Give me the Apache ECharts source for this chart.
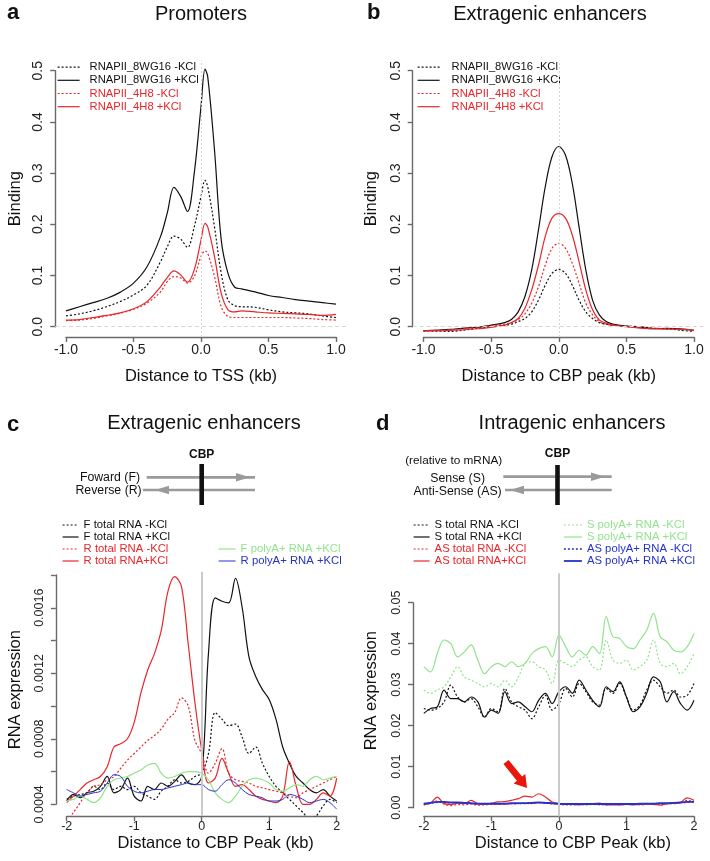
<!DOCTYPE html>
<html>
<head>
<meta charset="utf-8">
<script src="https://cdn.jsdelivr.net/npm/echarts@6/dist/echarts.min.js"></script>
<style>
html, body { margin: 0; padding: 0; background: #fff; }
#chart { width: 710px; height: 861px; }
</style>
</head>
<body>
<div id="chart"></div>
<script>
// ---------- data ----------
// a: promoters, distance to TSS (kb)
var tssX = [-1.0, -0.9, -0.8, -0.7, -0.6, -0.5, -0.4, -0.3, -0.25, -0.2, -0.15, -0.1, -0.05, 0, 0.03, 0.05, 0.1, 0.15, 0.2, 0.25, 0.3, 0.4, 0.5, 0.6, 0.7, 0.8, 0.9, 1.0]
var prom8wgMinus = [0.021, 0.025, 0.031, 0.039, 0.049, 0.062, 0.081, 0.127, 0.156, 0.177, 0.171, 0.155, 0.195, 0.254, 0.286, 0.273, 0.195, 0.104, 0.052, 0.041, 0.039, 0.038, 0.033, 0.029, 0.027, 0.025, 0.021, 0.018]
var prom8wgPlus = [0.031, 0.039, 0.047, 0.055, 0.067, 0.085, 0.117, 0.176, 0.222, 0.272, 0.254, 0.225, 0.300, 0.430, 0.503, 0.488, 0.345, 0.169, 0.104, 0.077, 0.074, 0.068, 0.061, 0.057, 0.053, 0.050, 0.047, 0.044]
var prom4h8Minus = [0.012, 0.013, 0.016, 0.021, 0.026, 0.034, 0.046, 0.068, 0.088, 0.098, 0.095, 0.085, 0.098, 0.137, 0.148, 0.143, 0.098, 0.039, 0.020, 0.018, 0.018, 0.018, 0.018, 0.018, 0.017, 0.016, 0.014, 0.013]
var prom4h8Plus = [0.013, 0.014, 0.018, 0.022, 0.027, 0.035, 0.049, 0.078, 0.096, 0.109, 0.101, 0.087, 0.111, 0.169, 0.202, 0.195, 0.137, 0.065, 0.033, 0.029, 0.031, 0.029, 0.027, 0.026, 0.025, 0.024, 0.022, 0.024]

// b: extragenic enhancers, distance to CBP peak (kb)
var cbpX = [-1.0, -0.8, -0.6, -0.5, -0.4, -0.35, -0.3, -0.25, -0.2, -0.15, -0.1, -0.05, 0, 0.05, 0.1, 0.15, 0.2, 0.25, 0.3, 0.35, 0.4, 0.5, 0.6, 0.7, 0.8, 0.9, 1.0]
var enh8wgMinus = [-0.008, -0.009, -0.003, 0.000, 0.003, 0.005, 0.010, 0.016, 0.029, 0.052, 0.081, 0.104, 0.112, 0.104, 0.081, 0.052, 0.029, 0.016, 0.008, 0.005, 0.003, 0.001, 0.000, -0.003, -0.004, -0.007, -0.009]
var enh8wgPlus = [-0.008, -0.005, -0.001, 0.003, 0.008, 0.014, 0.029, 0.059, 0.111, 0.189, 0.273, 0.332, 0.352, 0.335, 0.280, 0.195, 0.111, 0.052, 0.023, 0.010, 0.005, 0.001, -0.001, -0.004, -0.003, -0.004, -0.007]
var enh4h8Minus = [-0.008, -0.006, -0.001, 0.002, 0.005, 0.008, 0.014, 0.025, 0.046, 0.078, 0.120, 0.153, 0.163, 0.153, 0.124, 0.085, 0.046, 0.023, 0.010, 0.005, 0.003, 0.000, -0.001, -0.003, -0.004, -0.005, -0.008]
var enh4h8Plus = [-0.008, -0.007, -0.004, -0.001, 0.003, 0.008, 0.016, 0.036, 0.072, 0.120, 0.176, 0.212, 0.221, 0.212, 0.179, 0.127, 0.072, 0.033, 0.013, 0.007, 0.003, 0.000, -0.003, -0.004, -0.005, -0.005, -0.007]

// c, d: distance to CBP peak (kb)
var kbX = [-2.0, -1.9, -1.8, -1.7, -1.6, -1.5, -1.4, -1.3, -1.2, -1.1, -1.0, -0.9, -0.8, -0.7, -0.6, -0.5, -0.4, -0.3, -0.2, -0.1, 0, 0.1, 0.2, 0.3, 0.4, 0.5, 0.6, 0.7, 0.8, 0.9, 1.0, 1.1, 1.2, 1.3, 1.4, 1.5, 1.6, 1.7, 1.8, 1.9, 2.0]

// c: extragenic enhancers RNA
var extFMinus = [0.00043, 0.00045, 0.00046, 0.00047, 0.00051, 0.00049, 0.00053, 0.00049, 0.00051, 0.00049, 0.00051, 0.00047, 0.00045, 0.00043, 0.00048, 0.00051, 0.00055, 0.00053, 0.00054, 0.00057, 0.00059, 0.00071, 0.00096, 0.00092, 0.00088, 0.00089, 0.00081, 0.00071, 0.00075, 0.00065, 0.00057, 0.00051, 0.00047, 0.00043, 0.00039, 0.00035, 0.00031, 0.00033, 0.00039, 0.00043, 0.00041]
var extFPlus = [0.00042, 0.00046, 0.00044, 0.00047, 0.00048, 0.00051, 0.00057, 0.00047, 0.00049, 0.00056, 0.00045, 0.00042, 0.00051, 0.00049, 0.00053, 0.00051, 0.00054, 0.00058, 0.00053, 0.00052, 0.00057, 0.00132, 0.00166, 0.00164, 0.00163, 0.00178, 0.0016, 0.0013, 0.00118, 0.0011, 0.00104, 0.00092, 0.00075, 0.00065, 0.00057, 0.00053, 0.00049, 0.00047, 0.00049, 0.00045, 0.00042]
var extRMinus = [0.0003, 0.00035, 0.00041, 0.00047, 0.00051, 0.00052, 0.00055, 0.00057, 0.00062, 0.00067, 0.00071, 0.00075, 0.00079, 0.00082, 0.00086, 0.00092, 0.00096, 0.00105, 0.001, 0.00079, 0.00071, 0.00059, 0.00065, 0.00074, 0.00059, 0.00055, 0.00054, 0.00053, 0.00051, 0.0005, 0.00049, 0.00048, 0.00047, 0.00045, 0.00044, 0.00047, 0.00049, 0.00051, 0.00053, 0.00055, 0.00057]
var extRPlus = [0.00041, 0.00045, 0.00049, 0.00053, 0.00055, 0.00057, 0.00063, 0.00075, 0.00077, 0.0008, 0.0009, 0.00108, 0.00122, 0.00132, 0.00146, 0.0017, 0.00179, 0.00173, 0.00138, 0.00102, 0.00073, 0.00053, 0.00056, 0.00068, 0.00059, 0.00051, 0.00052, 0.00049, 0.00045, 0.00043, 0.00042, 0.00041, 0.00045, 0.00066, 0.00051, 0.0004, 0.0004, 0.00043, 0.00047, 0.00045, 0.00056]
var extFPolyAPlus = [0.00042, 0.00043, 0.00045, 0.00043, 0.00041, 0.00044, 0.00051, 0.00055, 0.00056, 0.00057, 0.00059, 0.00061, 0.00064, 0.00065, 0.00059, 0.00056, 0.00057, 0.00059, 0.0006, 0.0006, 0.00059, 0.00055, 0.00047, 0.00043, 0.00041, 0.00045, 0.00051, 0.00055, 0.00056, 0.00055, 0.00053, 0.00049, 0.00048, 0.0005, 0.00052, 0.00051, 0.00055, 0.00057, 0.00055, 0.00056, 0.00057]
var extRPolyAPlus = [0.00049, 0.00047, 0.00045, 0.00046, 0.00047, 0.00048, 0.00053, 0.00058, 0.00057, 0.00051, 0.00048, 0.00047, 0.00048, 0.00049, 0.00049, 0.0005, 0.00051, 0.00052, 0.00053, 0.00052, 0.00052, 0.00049, 0.00048, 0.00052, 0.00055, 0.00053, 0.00049, 0.00046, 0.00045, 0.00044, 0.00042, 0.00042, 0.00043, 0.00046, 0.00045, 0.00043, 0.00041, 0.00042, 0.00043, 0.00041, 0.00037]

// d: intragenic enhancers RNA
var intSMinus = [0.0242, 0.0238, 0.0242, 0.0258, 0.0299, 0.027, 0.0258, 0.0266, 0.0246, 0.0221, 0.0242, 0.0234, 0.0291, 0.0258, 0.0246, 0.0238, 0.0217, 0.0246, 0.0274, 0.0238, 0.0254, 0.0291, 0.027, 0.0303, 0.0283, 0.0258, 0.025, 0.0291, 0.0279, 0.0303, 0.027, 0.0238, 0.025, 0.0287, 0.0311, 0.0295, 0.0279, 0.0287, 0.027, 0.0274, 0.0303]
var intSPlus = [0.023, 0.0242, 0.0246, 0.0287, 0.0266, 0.0266, 0.0258, 0.027, 0.0258, 0.0221, 0.0238, 0.023, 0.0283, 0.0254, 0.0258, 0.0246, 0.0234, 0.0262, 0.0279, 0.0254, 0.0283, 0.0295, 0.0279, 0.0311, 0.0287, 0.0262, 0.0246, 0.0295, 0.0283, 0.0307, 0.027, 0.0234, 0.0246, 0.0279, 0.0319, 0.0307, 0.0258, 0.0283, 0.0254, 0.0238, 0.0262]
var intASMinus = [0.0006, 0.0012, 0.0016, 0.0009, 0.0005, 0.0008, 0.0007, 0.0009, 0.0006, 0.0007, 0.0008, 0.0008, 0.0009, 0.0009, 0.001, 0.0011, 0.001, 0.0012, 0.0011, 0.0009, 0.0008, 0.0007, 0.0007, 0.0008, 0.0007, 0.0008, 0.0007, 0.0007, 0.0008, 0.0007, 0.0008, 0.0008, 0.0007, 0.0008, 0.0009, 0.0008, 0.0009, 0.001, 0.0011, 0.0018, 0.0014]
var intASPlus = [0.0008, 0.0011, 0.0026, 0.001, 0.0008, 0.0011, 0.001, 0.0018, 0.001, 0.0008, 0.0011, 0.0014, 0.0015, 0.0018, 0.0022, 0.0028, 0.0026, 0.0034, 0.0026, 0.0014, 0.001, 0.0008, 0.0008, 0.0007, 0.0008, 0.001, 0.0011, 0.0007, 0.0007, 0.0007, 0.0008, 0.0007, 0.0008, 0.001, 0.0008, 0.0006, 0.001, 0.0011, 0.0013, 0.0024, 0.0018]
var intSPolyAMinus = [0.0287, 0.0279, 0.0287, 0.0295, 0.0319, 0.0344, 0.0319, 0.0311, 0.0303, 0.0295, 0.0303, 0.0295, 0.0311, 0.0295, 0.0319, 0.0352, 0.0356, 0.0344, 0.0336, 0.0303, 0.036, 0.0352, 0.0344, 0.036, 0.0368, 0.0344, 0.0336, 0.0409, 0.036, 0.0352, 0.036, 0.0336, 0.0344, 0.036, 0.0409, 0.0352, 0.0344, 0.0352, 0.0327, 0.0344, 0.0376]
var intSPolyAPlus = [0.0344, 0.0331, 0.0376, 0.0409, 0.040, 0.0368, 0.038, 0.0397, 0.036, 0.0327, 0.0344, 0.0352, 0.0344, 0.0356, 0.0344, 0.0352, 0.0376, 0.0388, 0.0393, 0.0368, 0.0421, 0.0393, 0.0368, 0.0384, 0.0372, 0.0393, 0.0376, 0.0466, 0.0417, 0.0413, 0.0393, 0.0388, 0.0409, 0.0433, 0.0474, 0.0417, 0.0405, 0.0384, 0.038, 0.0393, 0.0425]
var intASPolyAMinus = [0.0009, 0.0011, 0.0013, 0.0013, 0.0012, 0.0012, 0.0011, 0.001, 0.0009, 0.0009, 0.0009, 0.0009, 0.0009, 0.001, 0.001, 0.001, 0.0011, 0.0012, 0.0011, 0.001, 0.0009, 0.0008, 0.0008, 0.0008, 0.0008, 0.0008, 0.0008, 0.0008, 0.0008, 0.0008, 0.0008, 0.0008, 0.0009, 0.0009, 0.0009, 0.001, 0.001, 0.0011, 0.0012, 0.0013, 0.0014]
var intASPolyAPlus = [0.001, 0.0012, 0.0014, 0.0014, 0.0013, 0.0013, 0.0012, 0.0011, 0.001, 0.001, 0.001, 0.001, 0.001, 0.0011, 0.0011, 0.0011, 0.0012, 0.0013, 0.0012, 0.0011, 0.001, 0.0009, 0.0009, 0.0009, 0.0009, 0.0009, 0.0009, 0.0009, 0.0009, 0.0009, 0.0009, 0.0009, 0.001, 0.001, 0.001, 0.0011, 0.0011, 0.0012, 0.0013, 0.0014, 0.0015]

// ---------- styling ----------
var FONT = '"Liberation Sans", Arial, Helvetica, sans-serif'
var BLACK = '#111111'
var RED = '#e8262b'
var GREEN = '#92e38c'
var BLUE = '#2432c8'
var AXIS = '#6a6a6a'
var DOT = [2, 2]

// each panel: tick range and where those ticks sit on the page, plus R style 4% padded region
var panels = [
    { xTick: [-1, 1], xPx: [66, 336], xStep: 0.5, yTick: [0, 0.5], yPx: [326.7, 70.7], yStep: 0.1,
        xReg: [-1.08, 1.08], yReg: [-0.02, 0.52], labelSize: 14, xMargin: 6,
        xFmt: function(v) { return v.toFixed(1) }, yFmt: function(v) { return v.toFixed(1) },
        xName: 'Distance to TSS (kb)', xNameGap: 31, xNamePad: 0, yName: 'Binding', yNameGap: 31, yNamePad: 0 },
    { xTick: [-1, 1], xPx: [423.5, 694], xStep: 0.5, yTick: [0, 0.5], yPx: [326.7, 70.7], yStep: 0.1,
        xReg: [-1.08, 1.08], yReg: [-0.02, 0.52], labelSize: 14, xMargin: 6,
        xFmt: function(v) { return v.toFixed(1) }, yFmt: function(v) { return v.toFixed(1) },
        xName: 'Distance to CBP peak (kb)', xNameGap: 31, xNamePad: 0, yName: 'Binding', yNameGap: 33, yNamePad: 0 },
    { xTick: [-2, 2], xPx: [66.7, 336.7], xStep: 1, yTick: [0.0004, 0.0018], yPx: [804.3, 575], yStep: 0.0002,
        xReg: [-2.16, 2.16], yReg: [0.000328, 0.00182], labelSize: 12.5, xMargin: 4,
        xFmt: function(v) { return String(v) },
        yFmt: function(v) { return Math.round((v - 0.0004) / 0.0002) % 2 === 0 ? v.toFixed(4) : '' },
        xName: 'Distance to CBP Peak (kb)', xNameGap: 18.5, xNamePad: [0, 0, 0, 28], yName: 'RNA expression', yNameGap: 32, yNamePad: 0 },
    { xTick: [-2, 2], xPx: [423.8, 694], xStep: 1, yTick: [0, 0.05], yPx: [807.7, 602.7], yStep: 0.01,
        xReg: [-2.16, 2.16], yReg: [-0.0021, 0.0572], labelSize: 12.5, xMargin: 4,
        xFmt: function(v) { return String(v) }, yFmt: function(v) { return v.toFixed(2) },
        xName: 'Distance to CBP Peak (kb)', xNameGap: 18.5, xNamePad: [0, 0, 0, 28], yName: 'RNA expression', yNameGap: 33, yNamePad: [0, 0, 0, 29] }
]

function toPx(v, t, p) {
    return p[0] + (v - t[0]) / (t[1] - t[0]) * (p[1] - p[0])
}

var grids = []
var xAxes = []
var yAxes = []
panels.forEach(function(p, i) {
    var l = toPx(p.xReg[0], p.xTick, p.xPx)
    var r = toPx(p.xReg[1], p.xTick, p.xPx)
    var t = toPx(p.yReg[1], p.yTick, p.yPx)
    var b = toPx(p.yReg[0], p.yTick, p.yPx)
    // data grid (whole plot region, no visible axes)
    grids.push({ left: l, top: t, width: r - l, height: b - t })
    xAxes.push({ gridIndex: 2 * i, type: 'value', min: p.xReg[0], max: p.xReg[1], show: false })
    yAxes.push({ gridIndex: 2 * i, type: 'value', min: p.yReg[0], max: p.yReg[1], show: false })
    // axis grid (tick range only, axes pushed out like R does)
    grids.push({ left: p.xPx[0], top: p.yPx[1], width: p.xPx[1] - p.xPx[0], height: p.yPx[0] - p.yPx[1] })
    var lineStyle = { color: AXIS, width: 1.4 }
    xAxes.push({
        gridIndex: 2 * i + 1, type: 'value', min: p.xTick[0], max: p.xTick[1], interval: p.xStep,
        offset: b - p.yPx[0],
        axisLine: { show: true, onZero: false, lineStyle: lineStyle },
        axisTick: { show: true, length: 5, lineStyle: lineStyle },
        axisLabel: { margin: p.xMargin, fontSize: p.labelSize, color: '#222', fontFamily: FONT, formatter: p.xFmt },
        splitLine: { show: false },
        name: p.xName, nameLocation: 'middle', nameGap: p.xNameGap,
        nameTextStyle: { fontSize: 16.5, color: BLACK, fontFamily: FONT, padding: p.xNamePad }
    })
    yAxes.push({
        gridIndex: 2 * i + 1, type: 'value', min: p.yTick[0], max: p.yTick[1], interval: p.yStep,
        offset: p.xPx[0] - l,
        axisLine: { show: true, onZero: false, lineStyle: lineStyle },
        axisTick: { show: true, length: 5, lineStyle: lineStyle },
        axisLabel: { margin: 10, rotate: 90, fontSize: p.labelSize, color: '#222', fontFamily: FONT, formatter: p.yFmt },
        splitLine: { show: false },
        name: p.yName, nameLocation: 'middle', nameGap: p.yNameGap,
        nameTextStyle: { fontSize: 16.5, color: BLACK, fontFamily: FONT, padding: p.yNamePad }
    })
})

function line(name, xs, ys, panel, color, dashed, width) {
    return {
        name: name, type: 'line', xAxisIndex: 2 * panel, yAxisIndex: 2 * panel,
        data: xs.map(function(x, k) { return [x, ys[k]] }),
        symbol: 'none', smooth: 0.35, clip: true, silent: true,
        lineStyle: { color: color, width: width || 1.2, type: dashed ? DOT : 'solid' },
        itemStyle: { color: color }
    }
}

function refLines(lines) {
    return { silent: true, symbol: 'none', label: { show: false }, animation: false, data: lines }
}

var series = [
    line('RNAPII_8WG16 -KCl', tssX, prom8wgMinus, 0, BLACK, true),
    line('RNAPII_8WG16 +KCl', tssX, prom8wgPlus, 0, BLACK, false),
    line('RNAPII_4H8 -KCl', tssX, prom4h8Minus, 0, RED, true),
    line('RNAPII_4H8 +KCl', tssX, prom4h8Plus, 0, RED, false),

    line('RNAPII_8WG16 -KCl', cbpX, enh8wgMinus, 1, BLACK, true),
    line('RNAPII_8WG16 +KCl', cbpX, enh8wgPlus, 1, BLACK, false),
    line('RNAPII_4H8 -KCl', cbpX, enh4h8Minus, 1, RED, true),
    line('RNAPII_4H8 +KCl', cbpX, enh4h8Plus, 1, RED, false),

    line('F total RNA -KCl', kbX, extFMinus, 2, BLACK, true),
    line('F total RNA +KCl', kbX, extFPlus, 2, BLACK, false),
    line('R total RNA -KCl', kbX, extRMinus, 2, RED, true),
    line('R total RNA+KCl', kbX, extRPlus, 2, RED, false),
    line('F polyA+ RNA +KCl', kbX, extFPolyAPlus, 2, GREEN, false),
    line('R polyA+ RNA +KCl', kbX, extRPolyAPlus, 2, BLUE, false, 1),

    line('S total RNA -KCl', kbX, intSMinus, 3, BLACK, true),
    line('S total RNA +KCl', kbX, intSPlus, 3, BLACK, false),
    line('AS total RNA -KCl', kbX, intASMinus, 3, RED, true),
    line('AS total RNA+KCl', kbX, intASPlus, 3, RED, false),
    line('S polyA+ RNA -KCl', kbX, intSPolyAMinus, 3, GREEN, true),
    line('S polyA+ RNA +KCl', kbX, intSPolyAPlus, 3, GREEN, false),
    line('AS polyA+ RNA -KCl', kbX, intASPolyAMinus, 3, BLUE, true, 1.4),
    line('AS polyA+ RNA +KCl', kbX, intASPolyAPlus, 3, BLUE, false, 1.8)
]
// faint guides at x = 0 / y = 0 (a, b) and grey bar at x = 0 (c, d)
var faint = [{ xAxis: 0, lineStyle: { color: '#d6d6d6', type: [2, 2], width: 1 } },
    { yAxis: 0, lineStyle: { color: '#d6d6d6', type: [4, 3], width: 1 } }]
series[0].markLine = refLines(faint)
series[4].markLine = refLines(faint)
series[8].markLine = refLines([{ xAxis: 0, lineStyle: { color: '#cacaca', type: 'solid', width: 2 } }])
series[14].markLine = refLines([{ xAxis: 0, lineStyle: { color: '#cacaca', type: 'solid', width: 2 } }])

function legend(left, top, width, fontSize, rowH, pad, items) {
    return {
        orient: 'vertical', left: left, top: top, padding: 0,
        itemWidth: width, itemHeight: rowH, itemGap: 0, selectedMode: false,
        itemStyle: { opacity: 0 },
        lineStyle: { width: 'inherit' },
        textStyle: { fontSize: fontSize, fontFamily: FONT, lineHeight: rowH, padding: [0, 0, 0, pad] },
        data: items.map(function(it) { return { name: it[0], textStyle: { color: it[1] } } })
    }
}
var abItems = [['RNAPII_8WG16 -KCl', BLACK], ['RNAPII_8WG16 +KCl', BLACK], ['RNAPII_4H8 -KCl', RED], ['RNAPII_4H8 +KCl', RED]]
var legends = [
    legend(57, 60.5, 22, 11.2, 13.2, 5, abItems),
    legend(417, 60.5, 22, 11.2, 13.2, 7, abItems),
    legend(62, 519, 16, 11.3, 12, 0, [['F total RNA -KCl', BLACK], ['F total RNA +KCl', BLACK], ['R total RNA -KCl', RED], ['R total RNA+KCl', RED]]),
    legend(218, 543, 17, 11.3, 12, 0, [['F polyA+ RNA +KCl', GREEN], ['R polyA+ RNA +KCl', BLUE]]),
    legend(413, 519, 16, 11.3, 12, 0, [['S total RNA -KCl', BLACK], ['S total RNA +KCl', BLACK], ['AS total RNA -KCl', RED], ['AS total RNA+KCl', RED]]),
    legend(563, 519, 18, 11.3, 12, 0, [['S polyA+ RNA -KCl', GREEN], ['S polyA+ RNA +KCl', GREEN], ['AS polyA+ RNA -KCl', BLUE], ['AS polyA+ RNA +KCl', BLUE]])
]

// ---------- decorations ----------
function txt(s, x, y, size, align, bold, color) {
    return {
        type: 'text', x: x, y: y, silent: true,
        style: {
            text: s, fill: color || BLACK, font: (bold ? 'bold ' : '') + size + 'px ' + FONT,
            align: align, textAlign: align, verticalAlign: 'middle', textVerticalAlign: 'middle'
        }
    }
}
function seg(x1, y1, x2, y2, color, w) {
    return { type: 'line', silent: true, shape: { x1: x1, y1: y1, x2: x2, y2: y2 }, style: { stroke: color, lineWidth: w } }
}
function poly(points, color) {
    return { type: 'polygon', silent: true, shape: { points: points }, style: { fill: color } }
}
function head(tipX, y, baseX, half) {
    return poly([[tipX, y], [baseX, y - half], [baseX, y + half]], '#9a9a9a')
}
function bigArrow(x0, y0, x1, y1, shaftHalf, headHalf, headLen) {
    var dx = x1 - x0
    var dy = y1 - y0
    var len = Math.sqrt(dx * dx + dy * dy)
    var ux = dx / len
    var uy = dy / len
    var nx = -uy
    var ny = ux
    var bx = x1 - ux * headLen
    var by = y1 - uy * headLen
    return poly([
        [x0 + nx * shaftHalf, y0 + ny * shaftHalf], [bx + nx * shaftHalf, by + ny * shaftHalf],
        [bx + nx * headHalf, by + ny * headHalf], [x1, y1],
        [bx - nx * headHalf, by - ny * headHalf], [bx - nx * shaftHalf, by - ny * shaftHalf],
        [x0 - nx * shaftHalf, y0 - ny * shaftHalf]
    ], '#e8160c')
}
var GREY = '#9a9a9a'
var graphics = [
    txt('a', 7, 13, 22, 'left', true), txt('Promoters', 201, 14.7, 20, 'center'),
    txt('b', 367, 13, 22, 'left', true), txt('Extragenic enhancers', 550, 14.7, 20, 'center'),
    txt('c', 7, 425, 22, 'left', true), txt('Extragenic enhancers', 204, 423.5, 20, 'center'),
    txt('d', 376, 424, 22, 'left', true), txt('Intragenic enhancers', 572, 423.5, 20, 'center'),
    // c diagram
    seg(146.7, 477.3, 255, 477.3, GREY, 2.7), head(250, 477.3, 236, 4.3),
    seg(143, 490, 255, 490, GREY, 2.7), head(155, 490, 169, 4.3),
    { type: 'rect', silent: true, shape: { x: 199.4, y: 464, width: 4.6, height: 41 }, style: { fill: BLACK } },
    txt('CBP', 201.7, 454.5, 12, 'center', true),
    txt('Foward (F)', 140, 478, 12.3, 'right'), txt('Reverse (R)', 141.7, 491, 12.3, 'right'),
    // d diagram
    seg(503.3, 476.7, 611.7, 476.7, GREY, 2.7), head(605, 476.7, 591, 4.3),
    seg(505, 490, 611.7, 490, GREY, 2.7), head(510, 490, 524, 4.3),
    { type: 'rect', silent: true, shape: { x: 555.2, y: 465, width: 4.6, height: 40 }, style: { fill: BLACK } },
    txt('CBP', 557.5, 453.5, 12, 'center', true),
    txt('(relative to mRNA)', 453.7, 460.5, 11.8, 'center'),
    txt('Sense (S)', 485, 479, 12.3, 'right'), txt('Anti-Sense (AS)', 501.7, 491.5, 12.3, 'right'),
    bigArrow(506, 762, 527, 788, 3.3, 7.5, 12)
]

var chart = echarts.init(document.getElementById('chart'), null, { renderer: 'canvas' })
chart.setOption({
    backgroundColor: '#ffffff',
    animation: false,
    grid: grids,
    xAxis: xAxes,
    yAxis: yAxes,
    legend: legends,
    series: series,
    graphic: { elements: graphics }
})
</script>
</body>
</html>
